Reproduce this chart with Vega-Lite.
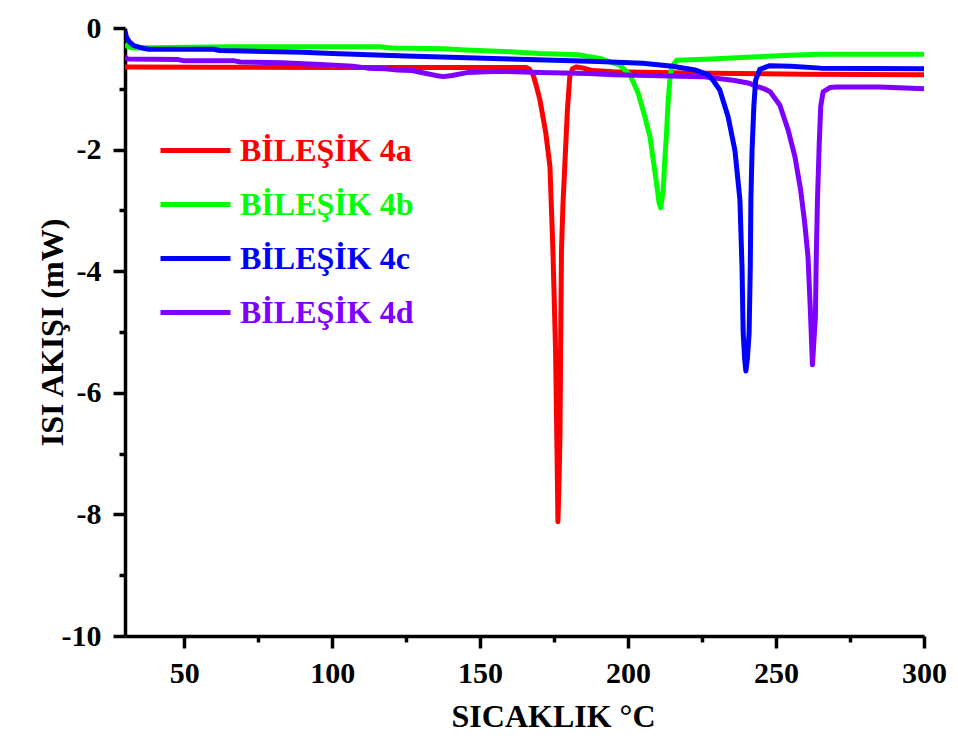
{
  "$schema": "https://vega.github.io/schema/vega-lite/v6.json",
  "width": 799,
  "height": 608,
  "autosize": {"type": "none"},
  "padding": {"left": 125, "top": 28, "right": 34, "bottom": 111},
  "background": "white",
  "config": {
    "view": {"stroke": null},
    "font": "Liberation Serif"
  },
  "data": {
    "values": [
      {"s": "BİLEŞİK 4a", "t": 30, "q": -0.64},
      {"s": "BİLEŞİK 4a", "t": 60, "q": -0.645},
      {"s": "BİLEŞİK 4a", "t": 100, "q": -0.65},
      {"s": "BİLEŞİK 4a", "t": 140, "q": -0.65},
      {"s": "BİLEŞİK 4a", "t": 165.5, "q": -0.65},
      {"s": "BİLEŞİK 4a", "t": 166.7, "q": -0.68},
      {"s": "BİLEŞİK 4a", "t": 167.9, "q": -0.77},
      {"s": "BİLEŞİK 4a", "t": 169.0, "q": -0.95},
      {"s": "BİLEŞİK 4a", "t": 170.2, "q": -1.18},
      {"s": "BİLEŞİK 4a", "t": 171.2, "q": -1.45},
      {"s": "BİLEŞİK 4a", "t": 172.2, "q": -1.73},
      {"s": "BİLEŞİK 4a", "t": 173.6, "q": -2.28},
      {"s": "BİLEŞİK 4a", "t": 174.6, "q": -3.65},
      {"s": "BİLEŞİK 4a", "t": 175.5, "q": -5.3},
      {"s": "BİLEŞİK 4a", "t": 175.9, "q": -6.67},
      {"s": "BİLEŞİK 4a", "t": 176.3, "q": -8.12},
      {"s": "BİLEŞİK 4a", "t": 176.7, "q": -7.4},
      {"s": "BİLEŞİK 4a", "t": 177.0, "q": -6.67},
      {"s": "BİLEŞİK 4a", "t": 177.2, "q": -5.3},
      {"s": "BİLEŞİK 4a", "t": 177.5, "q": -3.65},
      {"s": "BİLEŞİK 4a", "t": 178.0, "q": -2.9},
      {"s": "BİLEŞİK 4a", "t": 178.6, "q": -2.28},
      {"s": "BİLEŞİK 4a", "t": 179.5, "q": -1.35},
      {"s": "BİLEŞİK 4a", "t": 180.3, "q": -0.8},
      {"s": "BİLEŞİK 4a", "t": 181.2, "q": -0.67},
      {"s": "BİLEŞİK 4a", "t": 182.6, "q": -0.64},
      {"s": "BİLEŞİK 4a", "t": 185, "q": -0.66},
      {"s": "BİLEŞİK 4a", "t": 188, "q": -0.7},
      {"s": "BİLEŞİK 4a", "t": 195, "q": -0.72},
      {"s": "BİLEŞİK 4a", "t": 220, "q": -0.74},
      {"s": "BİLEŞİK 4a", "t": 260, "q": -0.76},
      {"s": "BİLEŞİK 4a", "t": 300, "q": -0.77},

      {"s": "BİLEŞİK 4b", "t": 30, "q": -0.26},
      {"s": "BİLEŞİK 4b", "t": 31, "q": -0.31},
      {"s": "BİLEŞİK 4b", "t": 33, "q": -0.33},
      {"s": "BİLEŞİK 4b", "t": 45, "q": -0.32},
      {"s": "BİLEŞİK 4b", "t": 65, "q": -0.31},
      {"s": "BİLEŞİK 4b", "t": 116, "q": -0.31},
      {"s": "BİLEŞİK 4b", "t": 120, "q": -0.33},
      {"s": "BİLEŞİK 4b", "t": 138, "q": -0.34},
      {"s": "BİLEŞİK 4b", "t": 145, "q": -0.36},
      {"s": "BİLEŞİK 4b", "t": 160, "q": -0.39},
      {"s": "BİLEŞİK 4b", "t": 170, "q": -0.42},
      {"s": "BİLEŞİK 4b", "t": 183, "q": -0.44},
      {"s": "BİLEŞİK 4b", "t": 190.5, "q": -0.5},
      {"s": "BİLEŞİK 4b", "t": 194, "q": -0.56},
      {"s": "BİLEŞİK 4b", "t": 197.2, "q": -0.61},
      {"s": "BİLEŞİK 4b", "t": 200.6, "q": -0.77},
      {"s": "BİLEŞİK 4b", "t": 203.4, "q": -1.07},
      {"s": "BİLEŞİK 4b", "t": 205.7, "q": -1.46},
      {"s": "BİLEŞİK 4b", "t": 207.4, "q": -1.79},
      {"s": "BİLEŞİK 4b", "t": 208.5, "q": -2.17},
      {"s": "BİLEŞİK 4b", "t": 209.6, "q": -2.55},
      {"s": "BİLEŞİK 4b", "t": 210.5, "q": -2.88},
      {"s": "BİLEŞİK 4b", "t": 211.0, "q": -2.96},
      {"s": "BİLEŞİK 4b", "t": 211.9, "q": -2.66},
      {"s": "BİLEŞİK 4b", "t": 212.4, "q": -2.17},
      {"s": "BİLEŞİK 4b", "t": 213.0, "q": -1.73},
      {"s": "BİLEŞİK 4b", "t": 213.5, "q": -1.24},
      {"s": "BİLEŞİK 4b", "t": 214.1, "q": -0.86},
      {"s": "BİLEŞİK 4b", "t": 214.7, "q": -0.64},
      {"s": "BİLEŞİK 4b", "t": 216.4, "q": -0.53},
      {"s": "BİLEŞİK 4b", "t": 228, "q": -0.51},
      {"s": "BİLEŞİK 4b", "t": 240, "q": -0.48},
      {"s": "BİLEŞİK 4b", "t": 255, "q": -0.45},
      {"s": "BİLEŞİK 4b", "t": 265, "q": -0.43},
      {"s": "BİLEŞİK 4b", "t": 300, "q": -0.43},

      {"s": "BİLEŞİK 4d", "t": 30, "q": -0.48},
      {"s": "BİLEŞİK 4d", "t": 31, "q": -0.51},
      {"s": "BİLEŞİK 4d", "t": 48, "q": -0.52},
      {"s": "BİLEŞİK 4d", "t": 50, "q": -0.54},
      {"s": "BİLEŞİK 4d", "t": 67, "q": -0.54},
      {"s": "BİLEŞİK 4d", "t": 69, "q": -0.56},
      {"s": "BİLEŞİK 4d", "t": 83, "q": -0.57},
      {"s": "BİLEŞİK 4d", "t": 96, "q": -0.6},
      {"s": "BİLEŞİK 4d", "t": 107, "q": -0.63},
      {"s": "BİLEŞİK 4d", "t": 112, "q": -0.66},
      {"s": "BİLEŞİK 4d", "t": 118, "q": -0.67},
      {"s": "BİLEŞİK 4d", "t": 122, "q": -0.69},
      {"s": "BİLEŞİK 4d", "t": 127, "q": -0.7},
      {"s": "BİLEŞİK 4d", "t": 131, "q": -0.74},
      {"s": "BİLEŞİK 4d", "t": 135, "q": -0.78},
      {"s": "BİLEŞİK 4d", "t": 137.5, "q": -0.8},
      {"s": "BİLEŞİK 4d", "t": 140.5, "q": -0.78},
      {"s": "BİLEŞİK 4d", "t": 146, "q": -0.73},
      {"s": "BİLEŞİK 4d", "t": 156, "q": -0.71},
      {"s": "BİLEŞİK 4d", "t": 170, "q": -0.73},
      {"s": "BİLEŞİK 4d", "t": 187, "q": -0.75},
      {"s": "BİLEŞİK 4d", "t": 195, "q": -0.77},
      {"s": "BİLEŞİK 4d", "t": 207, "q": -0.78},
      {"s": "BİLEŞİK 4d", "t": 225, "q": -0.8},
      {"s": "BİLEŞİK 4d", "t": 235.5, "q": -0.86},
      {"s": "BİLEŞİK 4d", "t": 241, "q": -0.91},
      {"s": "BİLEŞİK 4d", "t": 244, "q": -0.97},
      {"s": "BİLEŞİK 4d", "t": 246, "q": -1.0},
      {"s": "BİLEŞİK 4d", "t": 248, "q": -1.05},
      {"s": "BİLEŞİK 4d", "t": 251.3, "q": -1.27},
      {"s": "BİLEŞİK 4d", "t": 254.1, "q": -1.68},
      {"s": "BİLEŞİK 4d", "t": 256.4, "q": -2.12},
      {"s": "BİLEŞİK 4d", "t": 258.3, "q": -2.66},
      {"s": "BİLEŞİK 4d", "t": 259.7, "q": -3.21},
      {"s": "BİLEŞİK 4d", "t": 260.8, "q": -3.76},
      {"s": "BİLEŞİK 4d", "t": 261.6, "q": -4.64},
      {"s": "BİLEŞİK 4d", "t": 262.3, "q": -5.54},
      {"s": "BİLEŞİK 4d", "t": 263.3, "q": -4.75},
      {"s": "BİLEŞİK 4d", "t": 263.6, "q": -3.76},
      {"s": "BİLEŞİK 4d", "t": 264.0, "q": -2.83},
      {"s": "BİLEŞİK 4d", "t": 264.6, "q": -1.9},
      {"s": "BİLEŞİK 4d", "t": 265.1, "q": -1.29},
      {"s": "BİLEŞİK 4d", "t": 265.9, "q": -1.05},
      {"s": "BİLEŞİK 4d", "t": 268.2, "q": -0.98},
      {"s": "BİLEŞİK 4d", "t": 270.4, "q": -0.97},
      {"s": "BİLEŞİK 4d", "t": 285, "q": -0.97},
      {"s": "BİLEŞİK 4d", "t": 300, "q": -1.0},

      {"s": "BİLEŞİK 4c", "t": 30, "q": -0.05},
      {"s": "BİLEŞİK 4c", "t": 30.5, "q": -0.15},
      {"s": "BİLEŞİK 4c", "t": 31.5, "q": -0.23},
      {"s": "BİLEŞİK 4c", "t": 33, "q": -0.29},
      {"s": "BİLEŞİK 4c", "t": 35, "q": -0.32},
      {"s": "BİLEŞİK 4c", "t": 38, "q": -0.35},
      {"s": "BİLEŞİK 4c", "t": 60, "q": -0.35},
      {"s": "BİLEŞİK 4c", "t": 62, "q": -0.37},
      {"s": "BİLEŞİK 4c", "t": 90, "q": -0.4},
      {"s": "BİLEŞİK 4c", "t": 100, "q": -0.42},
      {"s": "BİLEŞİK 4c", "t": 125, "q": -0.46},
      {"s": "BİLEŞİK 4c", "t": 140, "q": -0.48},
      {"s": "BİLEŞİK 4c", "t": 160, "q": -0.51},
      {"s": "BİLEŞİK 4c", "t": 190, "q": -0.55},
      {"s": "BİLEŞİK 4c", "t": 205, "q": -0.58},
      {"s": "BİLEŞİK 4c", "t": 215, "q": -0.63},
      {"s": "BİLEŞİK 4c", "t": 222.6, "q": -0.69},
      {"s": "BİLEŞİK 4c", "t": 227.1, "q": -0.77},
      {"s": "BİLEŞİK 4c", "t": 229, "q": -0.88},
      {"s": "BİLEŞİK 4c", "t": 231.0, "q": -1.02},
      {"s": "BİLEŞİK 4c", "t": 233.8, "q": -1.46},
      {"s": "BİLEŞİK 4c", "t": 236.1, "q": -2.01},
      {"s": "BİLEŞİK 4c", "t": 237.8, "q": -2.83},
      {"s": "BİLEŞİK 4c", "t": 238.5, "q": -3.93},
      {"s": "BİLEŞİK 4c", "t": 238.9, "q": -5.02},
      {"s": "BİLEŞİK 4c", "t": 239.4, "q": -5.45},
      {"s": "BİLEŞİK 4c", "t": 239.8, "q": -5.64},
      {"s": "BİLEŞİK 4c", "t": 240.3, "q": -5.45},
      {"s": "BİLEŞİK 4c", "t": 240.9, "q": -5.02},
      {"s": "BİLEŞİK 4c", "t": 241.3, "q": -3.93},
      {"s": "BİLEŞİK 4c", "t": 241.5, "q": -2.83},
      {"s": "BİLEŞİK 4c", "t": 241.9, "q": -2.01},
      {"s": "BİLEŞİK 4c", "t": 242.5, "q": -1.29},
      {"s": "BİLEŞİK 4c", "t": 243.1, "q": -0.86},
      {"s": "BİLEŞİK 4c", "t": 244.5, "q": -0.68},
      {"s": "BİLEŞİK 4c", "t": 247.9, "q": -0.62},
      {"s": "BİLEŞİK 4c", "t": 255, "q": -0.63},
      {"s": "BİLEŞİK 4c", "t": 265, "q": -0.66},
      {"s": "BİLEŞİK 4c", "t": 300, "q": -0.67}
    ]
  },
  "mark": {"type": "line", "strokeWidth": 5, "strokeJoin": "round", "clip": true},
  "encoding": {
    "x": {
      "field": "t", "type": "quantitative",
      "scale": {"domain": [30, 300], "nice": false, "zero": false},
      "axis": {
        "title": "SICAKLIK °C",
        "values": [50, 75, 100, 125, 150, 175, 200, 225, 250, 275, 300],
        "labelExpr": "datum.value % 50 === 0 ? toString(datum.value) : ''",
        "grid": false,
        "domainColor": "black", "domainWidth": 3.5,
        "tickColor": "black", "tickWidth": 3.5,
        "tickSize": {"condition": {"test": "datum.value % 50 === 0", "value": 12}, "value": 6},
        "labelFont": "Liberation Serif", "labelFontSize": 30, "labelFontWeight": "bold", "labelColor": "black",
        "labelBaseline": "alphabetic", "labelPadding": 34, "labelFlush": false, "labelOverlap": false,
        "titleFont": "Liberation Serif", "titleFontSize": 32, "titleFontWeight": "bold", "titleColor": "black",
        "titleX": 428, "titleY": 90, "titleAlign": "center", "titleBaseline": "alphabetic"
      }
    },
    "y": {
      "field": "q", "type": "quantitative",
      "scale": {"domain": [-10, 0], "nice": false, "zero": false},
      "axis": {
        "title": "ISI AKIŞI (mW)",
        "values": [-10, -9, -8, -7, -6, -5, -4, -3, -2, -1, 0],
        "labelExpr": "datum.value % 2 === 0 ? toString(datum.value) : ''",
        "grid": false,
        "domainColor": "black", "domainWidth": 3.5,
        "tickColor": "black", "tickWidth": 3.5,
        "tickSize": {"condition": {"test": "datum.value % 2 === 0", "value": 12}, "value": 6},
        "labelFont": "Liberation Serif", "labelFontSize": 30, "labelFontWeight": "bold", "labelColor": "black",
        "labelPadding": 12, "labelFlush": false, "labelOverlap": false,
        "titleFont": "Liberation Serif", "titleFontSize": 32, "titleFontWeight": "bold", "titleColor": "black",
        "titleX": -63, "titleY": 304, "titleAngle": -90, "titleAlign": "center", "titleBaseline": "alphabetic"
      }
    },
    "color": {
      "field": "s", "type": "nominal",
      "scale": {
        "domain": ["BİLEŞİK 4a", "BİLEŞİK 4b", "BİLEŞİK 4c", "BİLEŞİK 4d"],
        "range": ["#ff0000", "#00ff00", "#0000ff", "#8000ff"]
      },
      "legend": {
        "orient": "none", "legendX": 33, "legendY": 85,
        "title": null, "padding": 0,
        "symbolType": "stroke", "symbolSize": 4900, "symbolStrokeWidth": 5,
        "labelFont": "Liberation Serif", "labelFontSize": 32, "labelFontWeight": "bold",
        "labelOffset": 7, "rowPadding": -4, "labelLimit": 400,
        "encode": {"labels": {"update": {"fill": {"scale": "color", "field": "value"}}}}
      }
    }
  }
}
